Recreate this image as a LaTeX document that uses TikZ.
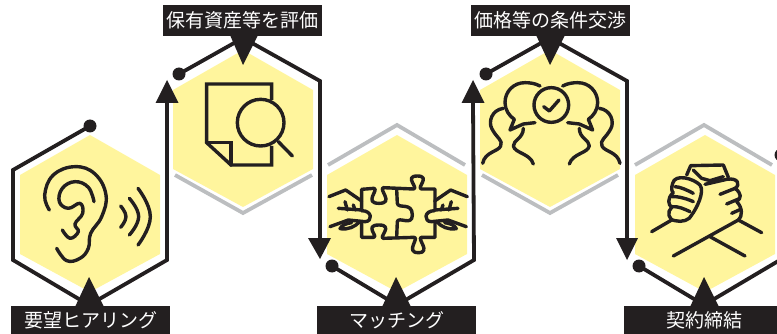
\documentclass[tikz,border=0pt]{standalone}
\usepackage{fontspec}
\newfontfamily\cjk{Noto Sans CJK JP}
\definecolor{ink}{HTML}{231F20}
\definecolor{hexy}{HTML}{FFF59D}
\definecolor{hexg}{HTML}{BCBEC0}
\tikzset{
  hexfill/.style={fill=hexy,draw=none},
  outline/.style={draw=ink,line width=3.8pt,line join=miter},
  shade line/.style={draw=hexg,line width=3.8pt,line join=miter},
  labelbox/.style={fill=ink,text=white,inner sep=0pt,minimum height=#1,font=\cjk\fontsize{19}{21}\selectfont},
  tip/.style={fill=ink,draw=none},
  dotn/.style={circle,fill=ink,inner sep=0pt,minimum size=13pt},
  icon/.style={draw=ink,line width=3.4pt,line cap=round,line join=round},
  zoomed/.style={x=0.33333pt,y=-0.33333pt,shift={#1}},
}
\begin{document}
\begin{tikzpicture}[x=1pt,y=-1pt]
\useasboundingbox (0,0) rectangle (777,334);
\clip (0,0) rectangle (777,334);
% yellow hexagons
\foreach \cx/\cy in {90/213,243/128,397/213,550/128,705/213}{
  \fill[hexfill] (\cx,\cy-78) -- (\cx+70,\cy-38) -- (\cx+70,\cy+41) -- (\cx,\cy+79) -- (\cx-70,\cy+41) -- (\cx-70,\cy-38) -- cycle;
}
% grey shadows
\draw[shade line] (175,175) -- (243,213) -- (312,175);
\draw[shade line] (482,175) -- (550,213) -- (618,175);
\draw[shade line] (328,165) -- (397,125) -- (465,165);
\draw[shade line] (635,165) -- (704,125) -- (772,165);
% dots
\node[dotn] (d1) at (90,126) {};
\node[dotn] (d2) at (179,74) {};
\node[dotn] (d3) at (332,266) {};
\node[dotn] (d4) at (486,74) {};
\node[dotn] (d5) at (639,266) {};
\node[dotn] (d6) at (781,155) {};
% arrow tips
\coordinate (a1) at (167,100);
\coordinate (a2) at (320,240);
\coordinate (a3) at (473,100);
\coordinate (a4) at (627,240);
% outlines
\draw[outline] (d1.center) -- (13,170) -- (13,260) -- (89,305) -- (167,260) -- (a1);
\draw[outline] (d2.center) -- (243,38) -- (320,81) -- (a2);
\draw[outline] (d3.center) -- (397,305) -- (474,260) -- (a3);
\draw[outline] (d4.center) -- (550,38) -- (627,81) -- (a4);
\draw[outline] (d5.center) -- (704,305) -- (780,260);
% arrowheads
\fill[tip] (167,80) -- (178.5,103) -- (155.5,103) -- cycle;
\fill[tip] (320,259) -- (331,238) -- (308,238) -- cycle;
\fill[tip] (473,80) -- (484.5,103) -- (461.5,103) -- cycle;
\fill[tip] (627,260) -- (638,238) -- (616,238) -- cycle;
% labels
\fill[tip] (89,277) -- (104,307) -- (75,307) -- cycle;
\fill[tip] (396,277) -- (411,307) -- (382,307) -- cycle;
\fill[tip] (704,277) -- (719,307) -- (690,307) -- cycle;
\fill[tip] (243,65) -- (258,35) -- (230,35) -- cycle;
\fill[tip] (550,65) -- (565,35) -- (536,35) -- cycle;
\node[labelbox=28pt,minimum width=159pt] (l1) at (90.5,320) {要望ヒアリング};
\node[labelbox=31pt,minimum width=159pt] (l2) at (242.5,20.5) {保有資産等を評価};
\node[labelbox=28pt,minimum width=159pt] (l3) at (396.5,320) {マッチング};
\node[labelbox=31pt,minimum width=159pt] (l4) at (550.5,20.5) {価格等の条件交渉};
\fill[tip] (624,306) rectangle (777,334);
\node[text=white,inner sep=0pt,font=\cjk\fontsize{19}{21}\selectfont] (l5) at (704,320) {契約締結};
% ear
\begin{scope}[zoomed={(0pt,-100pt)}]
\draw[icon] plot[smooth,tension=0.7] coordinates {(148,330)(134,285)(160,225)(225,200)(285,222)(318,285)(305,350)(272,400)(265,445)(240,475)(200,482)(170,445)};
\draw[icon] plot[smooth,tension=0.7] coordinates {(282,305)(265,262)(225,245)(187,265)(178,305)(205,325)(240,310)(248,340)(225,372)(235,395)(210,415)(187,390)};
\draw[icon] plot[smooth,tension=0.8] coordinates {(362,318)(378,350)(362,382)};
\draw[icon] plot[smooth,tension=0.8] coordinates {(388,295)(416,350)(388,405)};
\draw[icon] plot[smooth,tension=0.8] coordinates {(414,265)(451,350)(414,435)};
\end{scope}
% document + magnifier
\begin{scope}[zoomed={(150pt,0pt)}]
\draw[icon,line cap=butt,line join=miter] (365,300) -- (365,252) -- (170,252) -- (170,428) -- (243,495) -- (365,495) -- (365,438);
\draw[icon,line join=miter] (170,428) -- (243,428) -- (243,495);
\draw[icon] (332,368) circle[radius=70];
\draw[icon] (385,425) -- (427,468);
\end{scope}
% puzzle
\begin{scope}[zoomed={(300pt,-120pt)}]
\draw[icon] (185,272) -- (185,208) -- (222,205) .. controls (238,208) and (190,250) .. (237,250) .. controls (284,250) and (235,208) .. (250,203) -- (340,207) .. controls (358,205) and (310,168) .. (352,168) .. controls (394,168) and (347,205) .. (365,207) -- (405,207) -- (405,268);
\draw[icon] (405,305) -- (405,352) -- (365,352) .. controls (347,352) and (396,398) .. (355,398) .. controls (314,398) and (360,352) .. (342,352) -- (250,355) .. controls (235,352) and (282,315) .. (237,315) .. controls (190,315) and (238,352) .. (220,352) -- (185,352) -- (185,305);
\draw[icon] (290,208) -- (292,250) .. controls (295,268) and (337,245) .. (337,285) .. controls (337,320) and (295,288) .. (292,305) -- (290,352);
\foreach \m/\o in {1/0,-1/589}{
\begin{scope}[xshift=\o*0.33333pt,xscale=\m]
\draw[icon] (87,230) -- (137,210) -- (185,243);
\draw[icon] (115,265) -- (185,270);
\draw[icon] (135,245) -- (142,270);
\draw[icon] (160,255) -- (165,270);
\draw[icon] (90,320) -- (145,300) -- (195,305) .. controls (218,305) and (218,272) .. (185,272);
\draw[icon] (120,326) .. controls (145,330) and (165,320) .. (178,306);
\draw[icon] (120,326) .. controls (125,315) and (140,310) .. (155,308);
\end{scope}}
\end{scope}
% talk
\begin{scope}[zoomed={(460pt,0pt)}]
\foreach \m/\o in {1/0,-1/548}{
\begin{scope}[xshift=\o*0.33333pt,xscale=\m]
\draw[icon] (240,258) .. controls (225,250) and (210,248) .. (195,248) .. controls (160,248) and (135,275) .. (135,308) .. controls (135,330) and (148,348) .. (163,358) -- (150,390) -- (190,372) -- (225,368);
\draw[icon] (130,325) .. controls (95,330) and (85,365) .. (95,385) .. controls (110,415) and (130,420) .. (122,438) .. controls (115,455) and (75,455) .. (68,490);
\draw[icon] (190,385) .. controls (190,415) and (160,420) .. (160,438) .. controls (165,460) and (210,460) .. (220,492);
\end{scope}}
\draw[icon] (274,315) circle[radius=52];
\draw[icon] (251,320) -- (268,333) -- (297,300);
\end{scope}
% handshake
\begin{scope}[zoomed={(610pt,-120pt)}]
\draw[icon] (125,335) -- (185,300);
\draw[icon] (190,408) -- (385,300) -- (455,338);
\draw[icon] (300,350) -- (405,408);
\draw[icon] (230,165) -- (242,137) -- (340,135) -- (355,172);
\draw[icon] (250,150) -- (275,175) -- (300,182) -- (340,170);
\draw[icon] (285,193) -- (350,178) .. controls (385,172) and (392,195) .. (375,205) .. controls (395,220) and (395,235) .. (380,245) .. controls (398,262) and (398,290) .. (385,300);
\draw[icon] (330,223) -- (375,205);
\draw[icon] (350,252) -- (388,236);
\draw[icon] (365,280) -- (392,268);
\draw[icon] (270,195) .. controls (250,175) and (195,160) .. (188,190) .. controls (183,205) and (185,215) .. (190,218) .. controls (170,235) and (175,255) .. (185,262) .. controls (170,275) and (175,300) .. (195,302) .. controls (215,308) and (240,300) .. (245,285) .. controls (260,265) and (285,215) .. (270,195);
\draw[icon] (195,200) .. controls (210,200) and (235,212) .. (250,220);
\draw[icon] (185,230) .. controls (205,228) and (235,238) .. (250,245);
\draw[icon] (185,260) .. controls (205,258) and (225,268) .. (240,275);
\end{scope}
\end{tikzpicture}
\end{document}
